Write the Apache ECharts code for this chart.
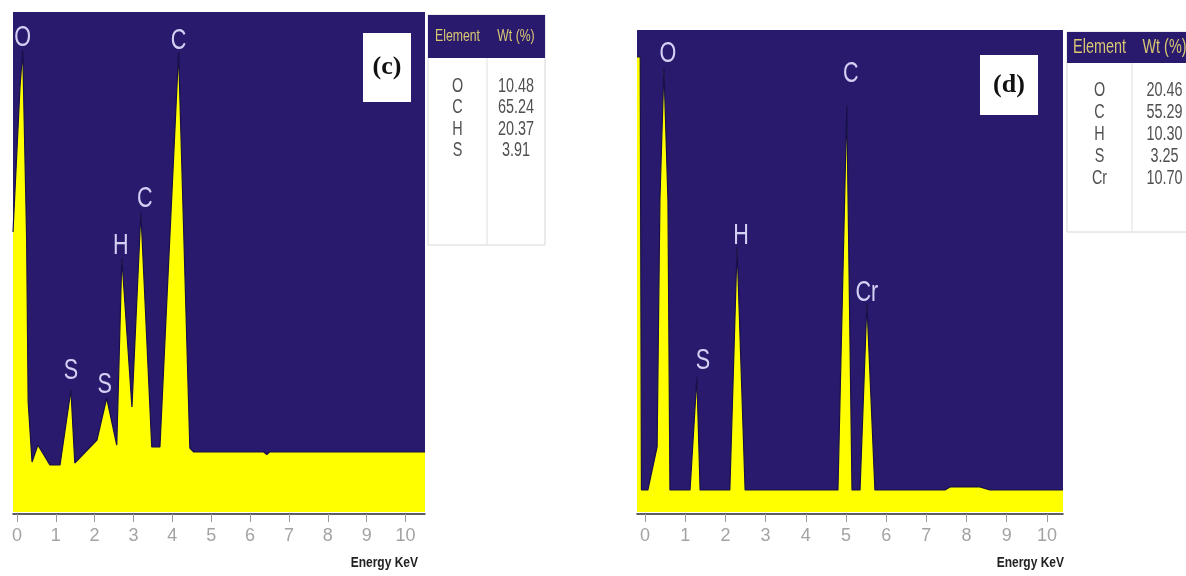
<!DOCTYPE html>
<html>
<head>
<meta charset="utf-8">
<title>EDS spectra (c) and (d)</title>
<script src="https://cdn.jsdelivr.net/npm/echarts@6/dist/echarts.min.js"></script>
<style>
  html, body { margin: 0; padding: 0; background: #ffffff; }
  #chart { width: 1186px; height: 576px; }
</style>
</head>
<body>
<div id="chart"></div>
<script>
// ---- Spectrum (c): energy (keV) and relative counts ----
const energyC = [-0.1, 0.08, 0.15, 0.25, 0.29, 0.39, 0.54, 0.85, 1.11, 1.39, 1.49, 2.06, 2.31, 2.57, 2.70, 2.96, 3.19, 3.47, 3.68, 4.16, 4.45, 4.55, 6.35, 6.43, 6.5, 10.5];
const countsC = [56, 85, 92.4, 55, 22, 10, 13.4, 9.4, 9.4, 24.4, 9.8, 14.4, 22.8, 13.4, 50.8, 21, 60, 13, 13, 92, 12.8, 12, 12, 11.5, 12, 12];

// ---- Spectrum (d) ----
const energyD = [-0.2, -0.12, -0.09, 0.07, 0.30, 0.37, 0.47, 0.57, 0.62, 1.12, 1.29, 1.37, 2.11, 2.29, 2.49, 4.80, 5.02, 5.15, 5.35, 5.52, 5.72, 7.46, 7.59, 8.33, 8.58, 10.4];
const countsD = [94.4, 94.4, 4.56, 4.56, 13.5, 64.7, 92.1, 64.7, 4.56, 4.56, 28, 4.56, 4.56, 55, 4.56, 4.56, 84.4, 4.56, 4.56, 43.4, 4.56, 4.56, 5.2, 5.2, 4.56, 4.56];

// ---- Peak identifications ----
const peakNamesC = ['O', 'C', 'C', 'H', 'S', 'S'];
const peakEnergyC = [0.15, 4.16, 3.19, 2.70, 1.39, 2.31];
const peakCountsC = [92.4, 92, 60, 50.8, 24.4, 22.8];

const peakNamesD = ['O', 'H', 'C', 'Cr', 'S'];
const peakEnergyD = [0.47, 2.29, 5.02, 5.52, 1.29];
const peakCountsD = [92.1, 55, 84.4, 43.4, 28];

// ---- Composition tables ----
const tableHeader = ['Element', 'Wt (%)'];
const elementsC = ['O', 'C', 'H', 'S'];
const weightsC = ['10.48', '65.24', '20.37', '3.91'];
const elementsD = ['O', 'C', 'H', 'S', 'Cr'];
const weightsD = ['20.46', '55.29', '10.30', '3.25', '10.70'];

// ---- Axis ticks and captions ----
const tickValues = [0, 1, 2, 3, 4, 5, 6, 7, 8, 9, 10];
const axisCaption = 'Energy KeV';
const panelTags = ['(c)', '(d)'];

const NAVY = '#2a1a6e';
const YELLOW = '#ffff00';
const SANS = "'Liberation Sans', Arial, sans-serif";
const SERIF = "'Liberation Serif', 'DejaVu Serif', serif";
const CONDENSE = 0.72; // horizontal squeeze for the condensed lettering

const zip = (xs, ys) => xs.map((x, i) => [x, ys[i]]);

function xAxisFor(gridIndex, min, max) {
  return {
    type: 'value', gridIndex, min, max, offset: 2,
    axisLine: { show: true, onZero: false, lineStyle: { color: '#2b2b2b', width: 1.5 } },
    axisTick: { show: true, customValues: tickValues, length: 8, lineStyle: { color: '#999999' } },
    axisLabel: { show: true, customValues: tickValues, margin: 13, color: '#a3a3a3', fontSize: 18, fontFamily: SANS },
    splitLine: { show: false }
  };
}
function yAxisFor(gridIndex) {
  return { type: 'value', gridIndex, min: 0, max: 100, show: false, splitLine: { show: false } };
}

function spectrum(i, data) {
  return {
    type: 'line', xAxisIndex: i, yAxisIndex: i, data,
    symbol: 'none', silent: true, z: 2,
    lineStyle: { color: '#17104a', width: 1.2 },
    areaStyle: { color: YELLOW, opacity: 1 }
  };
}

// condensed text element
function ctext(x, y, text, fill, font, align, vAlign, scale, z) {
  return {
    type: 'text', x, y, scaleX: scale, z: z || 12,
    style: { text, fill, font, align: align || 'center', verticalAlign: vAlign || 'middle' }
  };
}

function table(x, y, w, headH, bodyH, colSplit, rowY0, rowStep, headSize, elements, weights) {
  const els = [];
  els.push({ type: 'rect', shape: { x, y, width: w, height: headH + bodyH }, style: { fill: '#ffffff', stroke: '#d6d6d6', lineWidth: 1 }, z: 10 });
  els.push({ type: 'rect', shape: { x, y, width: w, height: headH }, style: { fill: NAVY }, z: 11 });
  els.push({ type: 'line', shape: { x1: x + colSplit, y1: y + headH, x2: x + colSplit, y2: y + headH + bodyH }, style: { stroke: '#e0e0e0', lineWidth: 1 }, z: 11 });
  const hFont = headSize + 'px ' + SANS;
  els.push(ctext(x + colSplit / 2, y + headH / 2, tableHeader[0], '#d9c872', hFont, 'center', 'middle', CONDENSE));
  els.push(ctext(x + colSplit + (w - colSplit) / 2, y + headH / 2, tableHeader[1], '#d9c872', hFont, 'center', 'middle', CONDENSE));
  elements.forEach((e, k) => {
    const ry = y + rowY0 + k * rowStep;
    els.push(ctext(x + colSplit / 2, ry, e, '#505050', '20px ' + SANS, 'center', 'middle', CONDENSE));
    els.push(ctext(x + colSplit + (w - colSplit) / 2, ry, weights[k], '#505050', '20px ' + SANS, 'center', 'middle', CONDENSE));
  });
  return els;
}

function tagBox(x, y, w, h, text) {
  return [
    { type: 'rect', shape: { x, y, width: w, height: h }, style: { fill: '#ffffff' }, z: 10 },
    { type: 'text', x: x + w / 2, y: y + h / 2, style: { text, fill: '#111111', font: 'bold 26px ' + SERIF, align: 'center', verticalAlign: 'middle' }, z: 11 }
  ];
}

const chart = echarts.init(document.getElementById('chart'), null, { renderer: 'canvas' });
chart.setOption({
  animation: false,
  backgroundColor: '#ffffff',
  grid: [
    { left: 13, top: 12, width: 412, height: 500, show: true, backgroundColor: NAVY, borderWidth: 0 },
    { left: 637, top: 30, width: 426, height: 482, show: true, backgroundColor: NAVY, borderWidth: 0 }
  ],
  xAxis: [xAxisFor(0, -0.1, 10.5), xAxisFor(1, -0.2, 10.4)],
  yAxis: [yAxisFor(0), yAxisFor(1)],
  series: [
    spectrum(0, zip(energyC, countsC)),
    spectrum(1, zip(energyD, countsD))
  ]
});

// peak letters, placed above each peak through the grid's own scales
function peakLetters(gridIndex, names, energies, counts, gaps, shifts) {
  return names.map((n, k) => {
    const p = chart.convertToPixel({ gridIndex }, [energies[k], counts[k]]);
    return ctext(p[0] + shifts[k], p[1] - gaps[k], n, '#d4d0f4', '30px ' + SANS, 'center', 'bottom', CONDENSE, 15);
  });
}

const graphics = [].concat(
  peakLetters(0, peakNamesC, peakEnergyC, peakCountsC, [-3, -4, -2, -3, 4, -2], [0, 0, 4, -1, 0, -2]),
  peakLetters(1, peakNamesD, peakEnergyD, peakCountsD, [-1, -4, 16, -5, 1], [4, 4, 4, 0, 6]),
  table(428, 15, 117, 43, 187, 59, 71, 21.5, 17, elementsC, weightsC),
  table(1067, 32, 130, 31, 169, 65, 58, 22, 20, elementsD, weightsD),
  tagBox(363, 33, 48, 69, panelTags[0]),
  tagBox(980, 55, 58, 60, panelTags[1]),
  [
    ctext(418, 563, axisCaption, '#222222', 'bold 15px ' + SANS, 'right', 'middle', 0.8, 10),
    ctext(1064, 563, axisCaption, '#222222', 'bold 15px ' + SANS, 'right', 'middle', 0.8, 10)
  ]
);
chart.setOption({ graphic: graphics });
</script>
</body>
</html>
